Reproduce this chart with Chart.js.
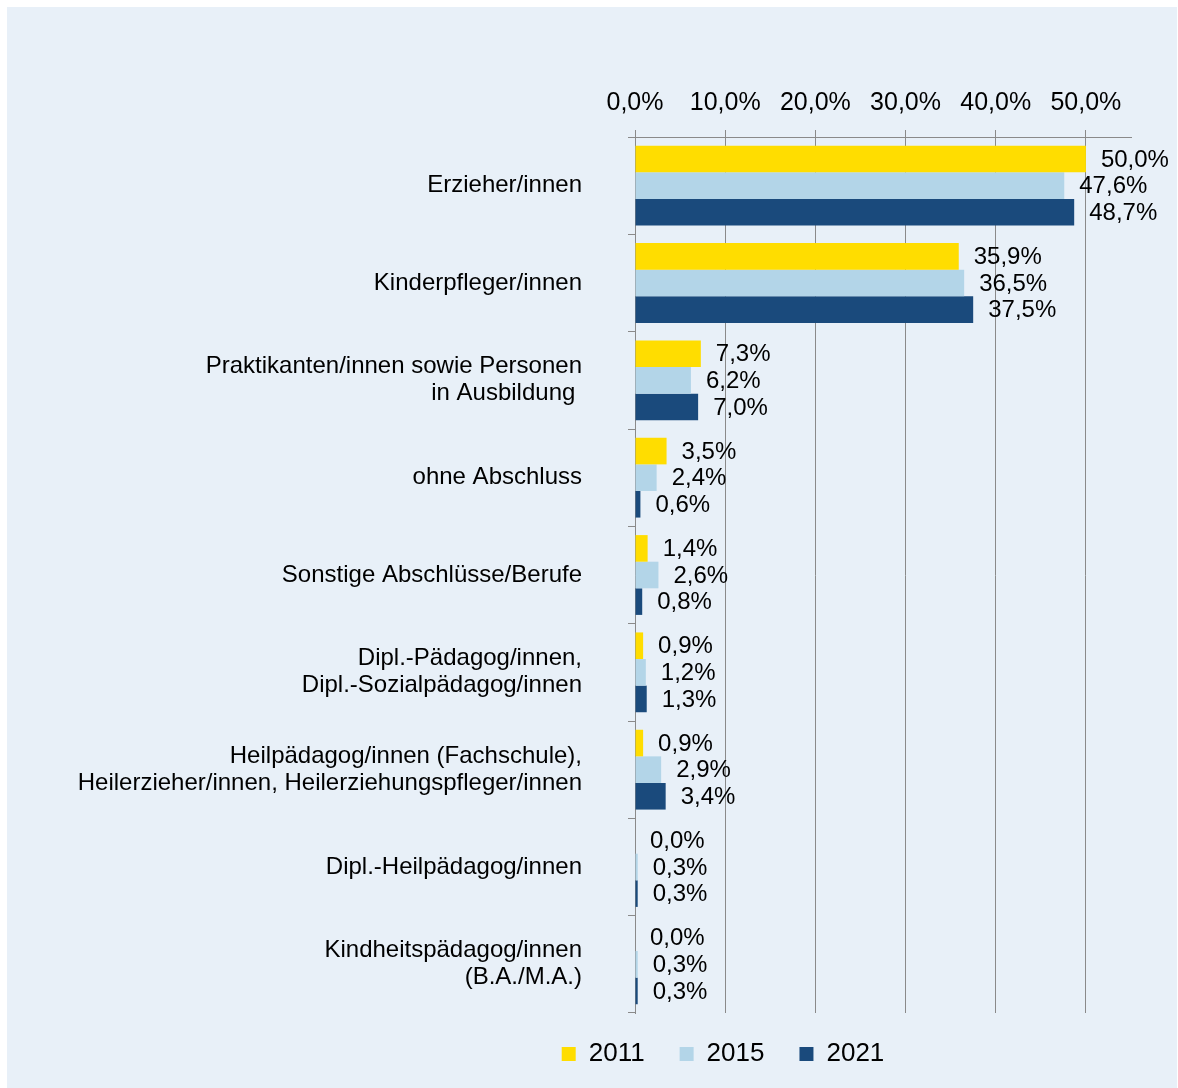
<!DOCTYPE html>
<html lang="de">
<head>
<meta charset="utf-8">
<title>Personal nach Berufsausbildungsabschluss</title>
<script src="https://cdn.jsdelivr.net/npm/chart.js@4.4.1/dist/chart.umd.min.js"></script>
<style>
    html, body { margin: 0; padding: 0; background: #ffffff; }
    #panel {
        position: absolute;
        left: 7px;
        top: 7px;
        width: 1170px;
        height: 1081px;
        background: #e8f0f8;
    }
</style>
</head>
<body>
<div id="panel">
    <canvas id="chart" width="1170" height="1081"></canvas>
</div>
<script>
const categories = [
    'Erzieher/innen',
    'Kinderpfleger/innen',
    ['Praktikanten/innen sowie Personen', 'in Ausbildung '],
    'ohne Abschluss',
    'Sonstige Abschlüsse/Berufe',
    ['Dipl.-Pädagog/innen,', 'Dipl.-Sozialpädagog/innen'],
    ['Heilpädagog/innen (Fachschule),', 'Heilerzieher/innen, Heilerziehungspfleger/innen'],
    'Dipl.-Heilpädagog/innen',
    ['Kindheitspädagog/innen', '(B.A./M.A.)']
];
const years = ['2011', '2015', '2021'];
const values2011 = [50.0, 35.9, 7.3, 3.5, 1.4, 0.9, 0.9, 0.0, 0.0];
const values2015 = [47.6, 36.5, 6.2, 2.4, 2.6, 1.2, 2.9, 0.3, 0.3];
const values2021 = [48.7, 37.5, 7.0, 0.6, 0.8, 1.3, 3.4, 0.3, 0.3];
const xTicks = [0, 10, 20, 30, 40, 50];
const colors = ['#ffdd00', '#b3d5e8', '#1a4a7c'];

const fmt = v => v.toFixed(1).replace('.', ',') + '%';

document.addEventListener('DOMContentLoaded', () => {
    const gridColor = '#8a8a8a';
    Chart.defaults.font.family = "'Liberation Sans', Arial, sans-serif";
    Chart.defaults.color = '#000000';

    // value labels to the right of each bar
    const valueLabels = {
        id: 'valueLabels',
        afterDatasetsDraw(chart) {
            const ctx = chart.ctx;
            ctx.save();
            ctx.font = "24px 'Liberation Sans', Arial, sans-serif";
            ctx.fillStyle = '#000000';
            ctx.textAlign = 'left';
            ctx.textBaseline = 'middle';
            chart.data.datasets.forEach((ds, i) => {
                chart.getDatasetMeta(i).data.forEach((bar, j) => {
                    ctx.fillText(fmt(ds.data[j]), bar.x + 15, bar.y + 1);
                });
            });
            ctx.restore();
        }
    };

    // legend sits under the plot, not centred on the whole canvas
    const legendShift = {
        id: 'legendShift',
        afterLayout(chart) {
            const lg = chart.legend;
            if (!lg) return;
            lg.left += 154;
            lg.right += 154;
            lg.top -= 7;
            lg.bottom -= 7;
        }
    };

    new Chart(document.getElementById('chart'), {
        type: 'bar',
        data: {
            labels: categories,
            datasets: [
                { label: years[0], data: values2011, backgroundColor: colors[0] },
                { label: years[1], data: values2015, backgroundColor: colors[1] },
                { label: years[2], data: values2021, backgroundColor: colors[2] }
            ]
        },
        options: {
            indexAxis: 'y',
            responsive: false,
            devicePixelRatio: 1,
            animation: false,
            layout: { padding: { right: 46, bottom: 4 } },
            datasets: { bar: { categoryPercentage: 0.82, barPercentage: 1 } },
            plugins: {
                tooltip: { enabled: false },
                legend: {
                    position: 'bottom',
                    labels: {
                        boxWidth: 14,
                        boxHeight: 14,
                        padding: 35,
                        font: { size: 26 },
                        color: '#000000'
                    }
                }
            },
            scales: {
                x: {
                    position: 'top',
                    min: 0,
                    max: 55,
                    afterBuildTicks: scale => { scale.ticks = xTicks.map(v => ({ value: v })); },
                    afterFit: scale => { scale.height = 130; },
                    ticks: {
                        callback: v => fmt(v),
                        font: { size: 25 },
                        padding: 12,
                        color: '#000000'
                    },
                    grid: { color: gridColor, lineWidth: 1, tickLength: 7 },
                    border: { color: gridColor, width: 1 }
                },
                y: {
                    afterFit: scale => { scale.width = 628; },
                    ticks: {
                        font: { size: 24, lineHeight: 1.125 },
                        padding: 46,
                        color: '#000000'
                    },
                    grid: { color: gridColor, lineWidth: 1, tickLength: 7, drawOnChartArea: false, offset: true },
                    border: { color: gridColor, width: 1 }
                }
            }
        },
        plugins: [valueLabels, legendShift]
    });
});
</script>
</body>
</html>
